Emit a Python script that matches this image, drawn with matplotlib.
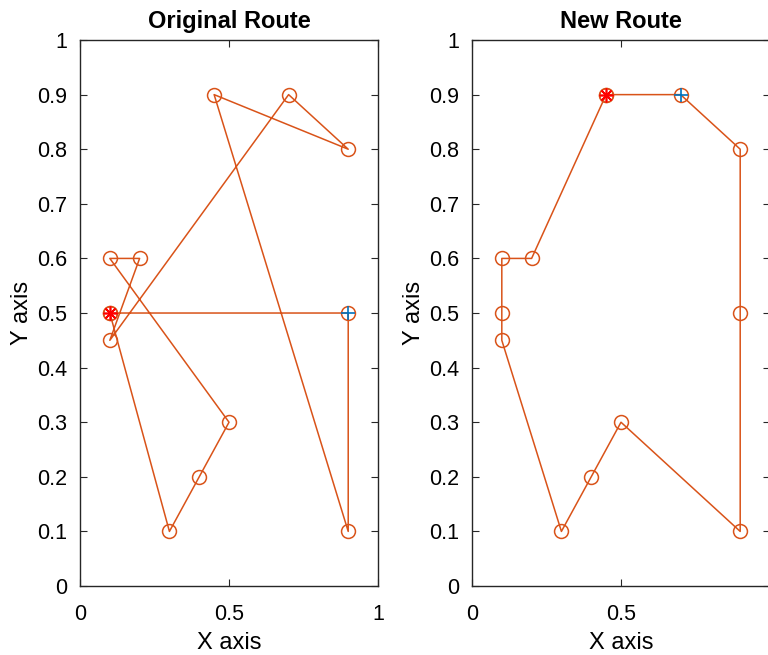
import numpy as np
import matplotlib.pyplot as plt

plt.rcParams['font.family'] = ['Liberation Sans', 'DejaVu Sans']

# route coordinates (closed tours)
orig_x = [0.1, 0.9, 0.9, 0.45, 0.9, 0.7, 0.1, 0.2, 0.1, 0.5, 0.4, 0.3, 0.1]
orig_y = [0.5, 0.5, 0.1, 0.9, 0.8, 0.9, 0.45, 0.6, 0.6, 0.3, 0.2, 0.1, 0.5]
new_x = [0.45, 0.7, 0.9, 0.9, 0.9, 0.5, 0.4, 0.3, 0.1, 0.1, 0.1, 0.2, 0.45]
new_y = [0.9, 0.9, 0.8, 0.5, 0.1, 0.3, 0.2, 0.1, 0.45, 0.5, 0.6, 0.6, 0.9]

titles = ['Original Route', 'New Route']
xtick_labels = [['0', '0.5', '1'], ['0', '0.5', '']]  # right panel's "1" falls off the edge
ytick_labels = ['0', '0.1', '0.2', '0.3', '0.4', '0.5', '0.6', '0.7', '0.8', '0.9', '1']
orange = '#D95319'
blue = '#0072BD'

fig = plt.figure(figsize=(7.68, 6.55), dpi=100)
ax1 = fig.add_axes([0.1042, 0.1053, 0.388, 0.8336])
ax2 = fig.add_axes([0.6146, 0.1053, 0.388, 0.8336])

panels = [(ax1, orig_x, orig_y, titles[0], xtick_labels[0]),
          (ax2, new_x, new_y, titles[1], xtick_labels[1])]
for ax, xs, ys, title, xtl in panels:
    ax.plot(xs, ys, '-o', color=orange, lw=1.1, ms=10, mfc='none', mew=1.1)
    ax.plot(xs[0], ys[0], marker=(8, 2, 0), color='red', ms=10, mew=1.2, ls='none')
    ax.plot(xs[1], ys[1], marker='+', color=blue, ms=10, mew=1.2, ls='none')
    ax.set_xlim(0, 1)
    ax.set_ylim(0, 1)
    ax.set_xticks([0, 0.5, 1])
    ax.set_xticklabels(xtl)
    ax.set_yticks(np.arange(0, 1.01, 0.1))
    ax.set_yticklabels(ytick_labels)
    ax.tick_params(direction='in', top=True, right=True, labelsize=15.5, length=5,
                   color='#262626', labelcolor='#000000')
    ax.tick_params(axis='x', pad=13)
    ax.tick_params(axis='y', pad=9)
    for s in ax.spines.values():
        s.set_color('#262626')
        s.set_linewidth(1.0)
    ax.set_title(title, fontsize=17, fontweight='bold', pad=9)
    ax.set_xlabel('X axis', fontsize=17, labelpad=5)
    ax.set_ylabel('Y axis', fontsize=17, labelpad=3)

fig.savefig('out.png', dpi=100)
